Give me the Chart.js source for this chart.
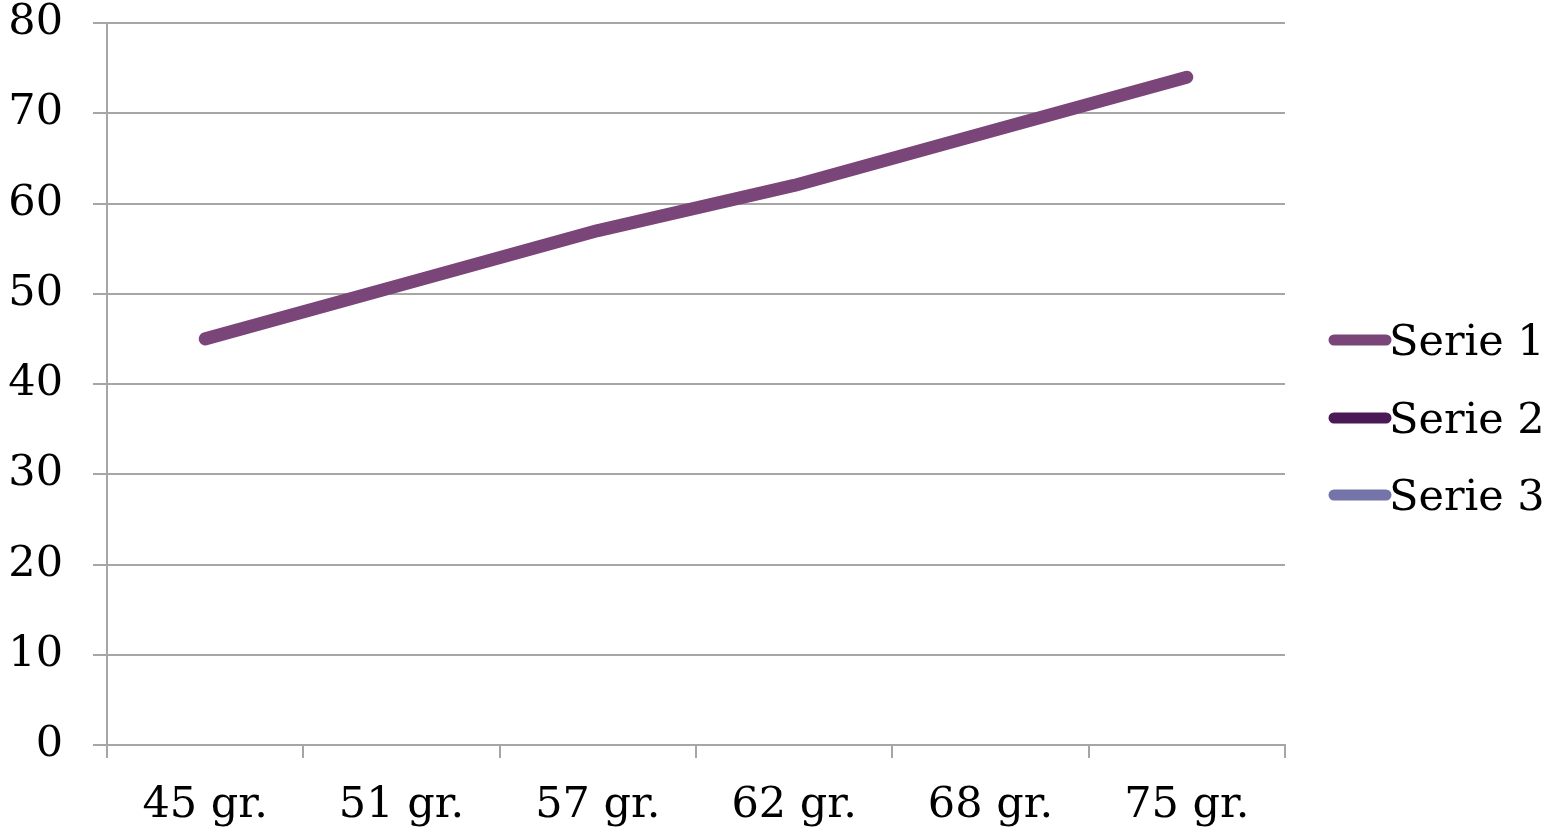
<!DOCTYPE html>
<html lang="en">
<head>
    <meta charset="UTF-8">
    <title>Serie chart</title>
    <style>
        html, body { margin: 0; padding: 0; background: #fff; }
        #wrap { width: 1550px; height: 835px; position: relative; }
    </style>
</head>
<body>
    <div id="wrap"><canvas id="chart"></canvas></div>

    <script src="https://cdn.jsdelivr.net/npm/chart.js@4/dist/chart.umd.min.js"></script>
    <script>
        // chart data
        const categories = ['45 gr.', '51 gr.', '57 gr.', '62 gr.', '68 gr.', '75 gr.'];
        const serie1 = [45, 51, 57, 62, 68, 74];
        const serie2 = [null, null, null, null, null, null];
        const serie3 = [null, null, null, null, null, null];
        const seriesNames = ['Serie 1', 'Serie 2', 'Serie 3'];
        const seriesColors = ['#7a4578', '#4a1a56', '#7474a8'];

        const FONT = '"DejaVu Serif", "Liberation Serif", serif';
        const GRID = '#a6a6a6';

        // legend drawn at the right, swatch touching the text like the original
        const sideLegend = {
            id: 'sideLegend',
            afterDraw(chart) {
                const ctx = chart.ctx;
                const x0 = 1334, x1 = 1386;
                const rows = [340, 418, 495];
                ctx.save();
                ctx.font = '43px ' + FONT;
                ctx.textBaseline = 'middle';
                ctx.fillStyle = '#000';
                chart.data.datasets.forEach((ds, i) => {
                    ctx.strokeStyle = ds.borderColor;
                    ctx.lineWidth = 11;
                    ctx.lineCap = 'round';
                    ctx.beginPath();
                    ctx.moveTo(x0, rows[i]);
                    ctx.lineTo(x1, rows[i]);
                    ctx.stroke();
                    ctx.fillText(ds.label, 1389, rows[i] + 4);
                });
                ctx.restore();
            }
        };

        new Chart(document.getElementById('chart'), {
            type: 'line',
            data: {
                labels: categories,
                datasets: [serie1, serie2, serie3].map((d, i) => ({
                    label: seriesNames[i],
                    data: d,
                    borderColor: seriesColors[i],
                    backgroundColor: seriesColors[i],
                    borderWidth: 13,
                    borderCapStyle: 'round',
                    borderJoinStyle: 'round',
                    pointRadius: 0,
                    tension: 0
                }))
            },
            options: {
                responsive: true,
                maintainAspectRatio: false,
                animation: false,
                layout: { padding: { left: 0, right: 265, top: 0, bottom: 0 } },
                plugins: {
                    legend: { display: false },
                    tooltip: { enabled: false }
                },
                scales: {
                    x: {
                        offset: true,
                        afterFit: s => { s.height = 90; },
                        grid: {
                            offset: true,
                            drawOnChartArea: false,
                            color: GRID,
                            lineWidth: 2,
                            tickLength: 13
                        },
                        border: { color: GRID, width: 2 },
                        ticks: {
                            color: '#000',
                            padding: 22,
                            maxRotation: 0,
                            font: { family: FONT, size: 43 }
                        }
                    },
                    y: {
                        min: 0,
                        max: 80,
                        afterFit: s => { s.width = 107; s.paddingTop = 23; s.paddingBottom = 10; },
                        grid: {
                            color: GRID,
                            lineWidth: 2,
                            tickLength: 14
                        },
                        border: { color: GRID, width: 2 },
                        ticks: {
                            stepSize: 10,
                            color: '#000',
                            padding: 30,
                            font: { family: FONT, size: 43 }
                        }
                    }
                }
            },
            plugins: [sideLegend]
        });
    </script>
</body>
</html>
